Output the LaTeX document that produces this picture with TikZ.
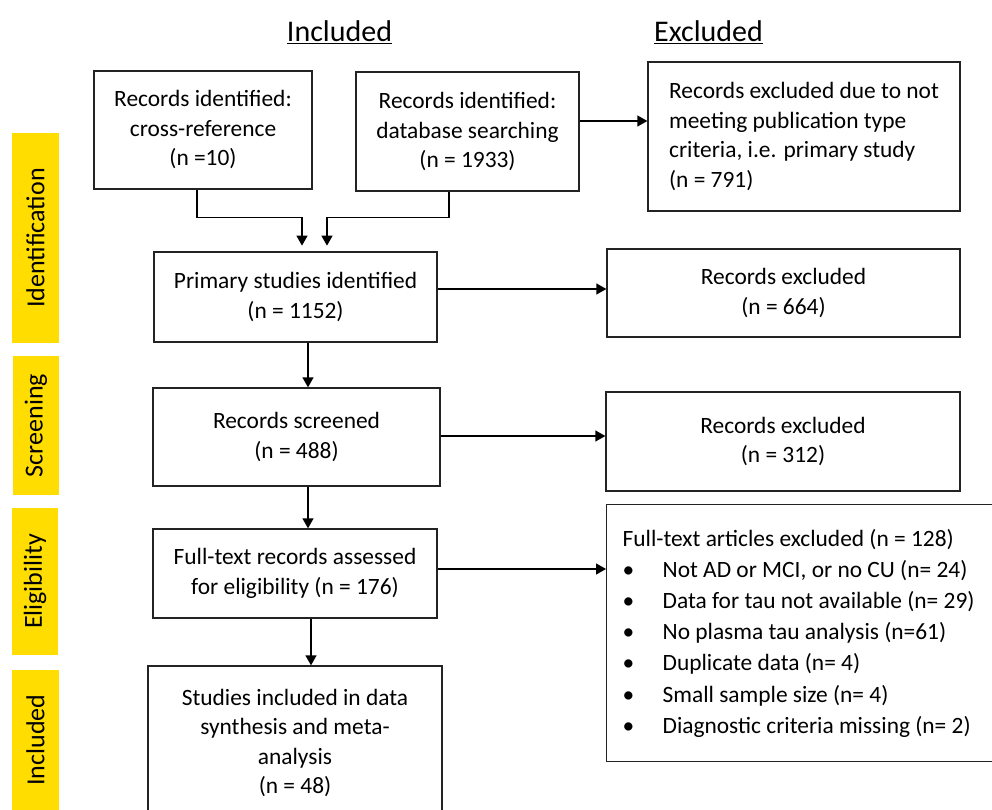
\documentclass[tikz,border=0pt]{standalone}
\usepackage{fontspec}
\setmainfont{Carlito}
\usetikzlibrary{arrows.meta,calc}
\definecolor{yellowbar}{RGB}{255,221,0}
\definecolor{lineclr}{RGB}{35,35,35}
\begin{document}
\begin{tikzpicture}[x=1pt,y=-1pt,
  box/.style={draw=lineclr, line width=1.3pt, align=center, inner sep=0pt,
    font=\fontsize{23.4}{29.5}\selectfont},
  arr/.style={draw=black, line width=1.3pt, -{Triangle[length=10pt,width=11pt]}},
  phasebar/.style={fill=yellowbar, draw=none, inner sep=0pt},
  phaselabel/.style={rotate=90, font=\fontsize{26}{30}\selectfont},
  head/.style={font=\fontsize{30}{36}\selectfont}]
\useasboundingbox (0,0) rectangle (992,810);

% headers
\node[head] (hin) at (339.5,32) {\underline{Included}};
\node[head] (hex) at (708.5,32) {\underline{Excluded}};

% phase bars
\node[phasebar, minimum width=47pt, minimum height=210pt] (bid) at (35.5,238) {};
\node[phasebar, minimum width=46pt, minimum height=139pt] (bsc) at (36,425.5) {};
\node[phasebar, minimum width=46pt, minimum height=147pt] (bel) at (35,581.5) {};
\node[phasebar, minimum width=47pt, minimum height=140pt] (bic) at (35.5,740) {};
\node[phaselabel] (lid) at (bid.center) {Identification};
\node[phaselabel] (lsc) at (bsc.center) {Screening};
\node[phaselabel] (lel) at (bel.center) {Eligibility};
\node[phaselabel] (lic) at (bic.center) {Included};

% boxes
\node[box, minimum width=218pt, minimum height=118pt] (a) at (203,130)
  {Records identified:\\cross-reference\\(n =10)};
\node[box, minimum width=223pt, minimum height=119pt] (b) at (467.5,131.5)
  {Records identified:\\database searching\\(n = 1933)};
\node[box, align=left, minimum width=312pt, minimum height=149pt] (c) at (804,136.5)
  {Records excluded due to not\\meeting publication type\\criteria, i.e. primary study\\(n = 791)};
\node[box, minimum width=283pt, minimum height=90pt] (p) at (295.5,297)
  {Primary studies identified\\(n = 1152)};
\node[box, minimum width=353pt, minimum height=88pt] (x1) at (783.5,293)
  {Records excluded\\(n = 664)};
\node[box, minimum width=287pt, minimum height=98pt] (s) at (296.5,437)
  {Records screened\\(n = 488)};
\node[box, minimum width=354pt, minimum height=99pt] (x2) at (783,441.5)
  {Records excluded\\(n = 312)};
\node[box, minimum width=284pt, minimum height=89pt] (e) at (295,573.5)
  {Full-text records assessed\\for eligibility (n = 176)};
\node[box, minimum width=294pt, minimum height=154pt] (i) at (295,743)
  {Studies included in data\\synthesis and meta-\\analysis\\(n = 48)};
\node[box, align=flush left, anchor=north west, minimum height=257pt, inner xsep=16pt,
  text width=380pt, font=\fontsize{23.4}{31.2}\selectfont] (x3) at (606,504)
  {Full-text articles excluded (n = 128)\\
   \makebox[40pt][l]{•}Not AD or MCI, or no CU (n= 24)\\
   \makebox[40pt][l]{•}Data for tau not available (n= 29)\\
   \makebox[40pt][l]{•}No plasma tau analysis (n=61)\\
   \makebox[40pt][l]{•}Duplicate data (n= 4)\\
   \makebox[40pt][l]{•}Small sample size (n= 4)\\
   \makebox[40pt][l]{•}Diagnostic criteria missing (n= 2)};

% connectors
\draw[arr] ([xshift=-6pt]a.south) -- ++(0,28) -- ++(105,0) -- ++(0,28);
\draw[arr] ([xshift=-18.5pt]b.south) -- ++(0,26) -- ++(-122,0) -- ++(0,28);
\draw[arr] ([yshift=10.5pt]b.east) -- ([yshift=10.5pt]b.east -| c.west);
\draw[arr] ([xshift=12.5pt]p.south) -- ([xshift=12.5pt]p.south |- s.north);
\draw[arr] ([yshift=8pt]p.east) -- ([yshift=8pt]p.east -| x1.west);
\draw[arr] ([xshift=11.5pt]s.south) -- ([xshift=11.5pt]s.south |- e.north);
\draw[arr] ([yshift=1pt]s.east) -- ([yshift=1pt]s.east -| x2.west);
\draw[arr] ([xshift=16pt]e.south) -- ([xshift=16pt]e.south |- i.north);
\draw[arr] ([yshift=4.5pt]e.east) -- ([yshift=4.5pt]e.east -| x3.west);
\end{tikzpicture}
\end{document}
